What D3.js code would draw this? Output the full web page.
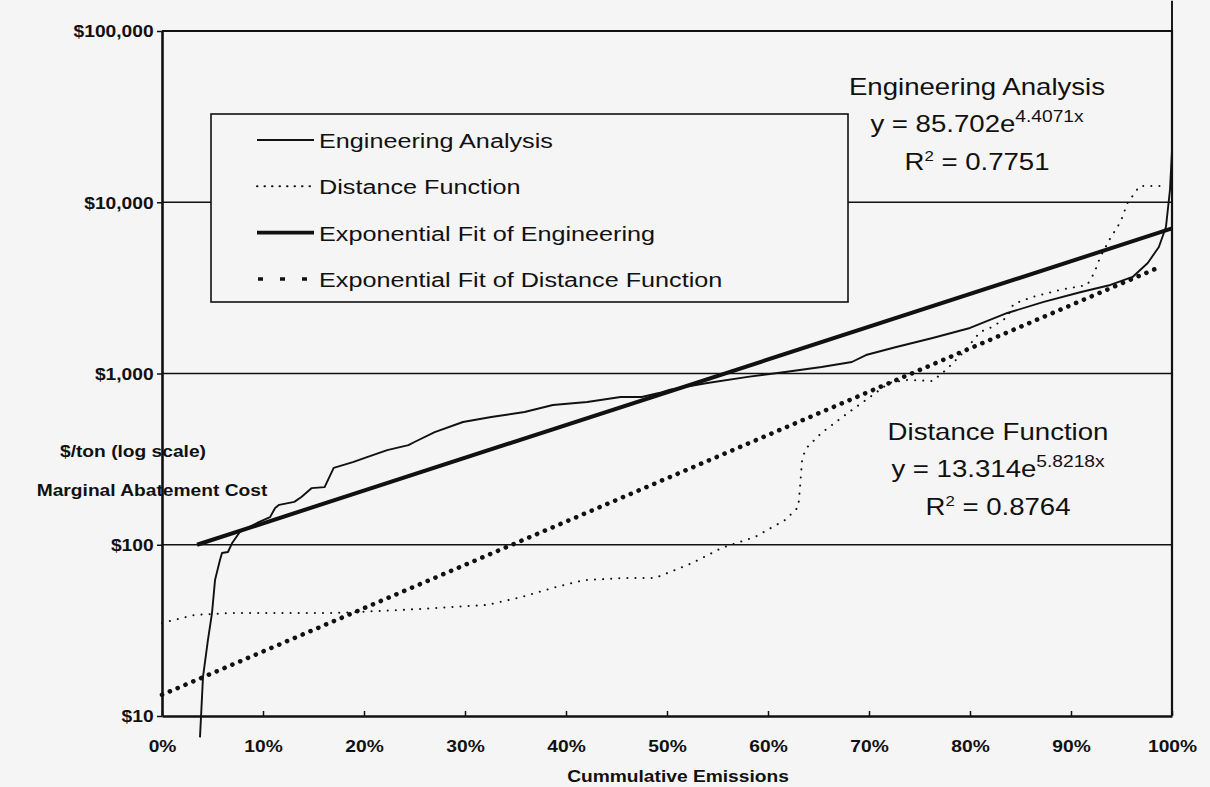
<!DOCTYPE html>
<html lang="en">
	<head>
		<meta charset="utf-8">
		<title>Marginal Abatement Cost</title>
		<script type="text/javascript" src="https://cdn.jsdelivr.net/npm/d3@7/dist/d3.min.js"></script>
		<style type="text/css">
			body {
				margin: 0;
				background: #f5f5f5;
			}
			svg text {
				font-family: "Liberation Sans", Arial, sans-serif;
				fill: #111;
			}
			.axis text {
				font-size: 16px;
				font-weight: bold;
			}
		</style>
	</head>

	<body>
		<script type="text/javascript">

		// values (x = share of cumulative emissions, cost in $/ton)
		var engX    = [0.0376, 0.0406, 0.0455, 0.0495, 0.0525, 0.0574, 0.0594, 0.0653, 0.0693, 0.0772,
		               0.0941, 0.107, 0.112, 0.116, 0.131, 0.138, 0.148, 0.161, 0.170, 0.189,
		               0.203, 0.223, 0.244, 0.250, 0.270, 0.298, 0.326, 0.359, 0.387, 0.421,
		               0.454, 0.475, 0.492, 0.503, 0.540, 0.580, 0.617, 0.653, 0.683, 0.697,
		               0.727, 0.763, 0.800, 0.837, 0.873, 0.910, 0.939, 0.961, 0.976, 0.987,
		               0.994, 0.998, 1.0, 1.0];
		var engCost = [7.5, 16.9, 27.8, 39.9, 62.2, 81.5, 89.5, 90.7, 102, 119,
		               134, 145, 164, 171, 178, 190, 214, 217, 281, 304,
		               325, 357, 382, 398, 455, 521, 557, 596, 655, 682,
		               729, 729, 769, 805, 880, 955, 1021, 1092, 1167, 1282,
		               1428, 1612, 1844, 2256, 2617, 2993, 3289, 3662, 4420, 5478,
		               7166, 11800, 20000, 150000];

		var distX    = [0, 0.032, 0.066, 0.168, 0.237, 0.270, 0.322, 0.356, 0.390, 0.418,
		                0.458, 0.488, 0.503, 0.525, 0.554, 0.587, 0.617, 0.630, 0.632, 0.634,
		                0.639, 0.653, 0.679, 0.701, 0.720, 0.738, 0.763, 0.776, 0.793, 0.810,
		                0.822, 0.837, 0.843, 0.862, 0.889, 0.916, 0.923, 0.929, 0.939, 0.949,
		                0.956, 0.968, 0.988];
		var distCost = [34.9, 38.9, 39.9, 39.9, 41.6, 42.7, 44.5, 49.5, 56.6, 62.2,
		                63.9, 63.9, 69.3, 78.2, 95.7, 111, 139.5, 166, 229, 325,
		                372, 450, 588, 729, 881, 917, 904, 1047, 1317, 1748,
		                1869, 2138, 2547, 2800, 3076, 3289, 3864, 4788, 6181, 7672,
		                9910, 12440, 12440];

		// end points of the two trend lines (straight on a log axis)
		var engFitX = [0.0347, 1.0];
		var engFitCost = [100, 7030];
		var distFitX = [0, 0.987];
		var distFitCost = [13.3, 4160];

		var xTicks = [0, 0.1, 0.2, 0.3, 0.4, 0.5, 0.6, 0.7, 0.8, 0.9, 1.0];
		var yTicks = [10, 100, 1000, 10000, 100000];

		var legendLabels = ["Engineering Analysis", "Distance Function",
		                    "Exponential Fit of Engineering", "Exponential Fit of Distance Function"];

		var w = 1210;
		var h = 787;
		var plotLeft = 162, plotRight = 1172, plotTop = 31, plotBottom = 716;
		var stretch = "scale(1.2,1)"; // the scan is wider than the original font

		var svg = d3.select("body")
		            .append("svg")
		            .attr("width", w)
		            .attr("height", h);

		var xScale = d3.scaleLinear()
		               .domain([0, 1])
		               .range([plotLeft, plotRight]);

		var yScale = d3.scaleLog()
		               .domain([10, 100000])
		               .range([plotBottom, plotTop]);

		var zip = function(xs, ys) {
			return xs.map(function(d, i) { return [d, ys[i]]; });
		}

		var line = d3.line()
		             .x(function(d) { return xScale(d[0]); })
		             .y(function(d) { return yScale(d[1]); });

		//gridlines
		svg.selectAll(".grid")
		   .data(yTicks.slice(1, 4))
		   .enter()
		   .append("line")
		   .attr("class", "grid")
		   .attr("x1", plotLeft)
		   .attr("x2", plotRight)
		   .attr("y1", function(d) { return yScale(d); })
		   .attr("y2", function(d) { return yScale(d); })
		   .attr("stroke", "#111")
		   .attr("stroke-width", 1.5);

		//plot frame top and right
		svg.append("path")
		   .attr("d", "M" + plotLeft + "," + yScale(100000) + "H" + plotRight + "V" + plotBottom)
		   .attr("fill", "none")
		   .attr("stroke", "#111")
		   .attr("stroke-width", 2.2);

		//axes
		var xAxis = d3.axisBottom(xScale)
		              .tickValues(xTicks)
		              .tickFormat(d3.format(".0%"))
		              .tickSizeInner(-5)
		              .tickSizeOuter(0)
		              .tickPadding(25);

		var yAxis = d3.axisLeft(yScale)
		              .tickValues(yTicks)
		              .tickFormat(function(d) { return "$" + d3.format(",")(d); })
		              .tickSizeInner(5)
		              .tickSizeOuter(0)
		              .tickPadding(2);

		var gx = svg.append("g")
		   .attr("class", "x axis")
		   .attr("transform", "translate(0," + plotBottom + ")")
		   .call(xAxis);

		var gy = svg.append("g")
		   .attr("class", "y axis")
		   .attr("transform", "translate(" + plotLeft + ",0)")
		   .call(yAxis);

		svg.selectAll(".axis .domain").attr("stroke", "#111").attr("stroke-width", 2.6);
		svg.selectAll(".axis .tick line").attr("stroke", "#111").attr("stroke-width", 1.5);
		svg.selectAll(".axis text").attr("transform", stretch).attr("font-family", null);
		gy.selectAll(".tick text").attr("dy", "0.36em");

		//legend box (hides the $10,000 gridline behind it)
		var lg = svg.append("g");
		lg.append("rect")
		  .attr("x", 211)
		  .attr("y", 114)
		  .attr("width", 637)
		  .attr("height", 188)
		  .attr("fill", "#f5f5f5")
		  .attr("stroke", "#111")
		  .attr("stroke-width", 1.6);

		var legendStyle = [
			{width: 1.8, dash: null, cap: "butt"},
			{width: 2, dash: "0.5,7", cap: "round"},
			{width: 3.8, dash: null, cap: "butt"},
			{width: 3.5, dash: "5,17", cap: "butt"}
		];

		legendLabels.forEach(function(label, i) {
			var cy = 140 + i * 46.3;
			var s = legendStyle[i];
			lg.append("line")
			  .attr("x1", i == 3 ? 258 : 257)
			  .attr("x2", 314)
			  .attr("y1", cy)
			  .attr("y2", cy)
			  .attr("stroke", "#111")
			  .attr("stroke-width", s.width)
			  .attr("stroke-linecap", s.cap)
			  .attr("stroke-dasharray", s.dash);
			lg.append("text")
			  .attr("transform", "translate(319," + (cy + 8) + ") " + stretch)
			  .attr("font-size", "21px")
			  .text(label);
		});

		//data series
		svg.append("path")
		   .datum(zip(distFitX, distFitCost))
		   .attr("d", line)
		   .attr("fill", "none")
		   .attr("stroke", "#111")
		   .attr("stroke-width", 4.6)
		   .attr("stroke-linecap", "round")
		   .attr("stroke-dasharray", "0.1,8.4");

		svg.append("path")
		   .datum(zip(distX, distCost))
		   .attr("d", line)
		   .attr("fill", "none")
		   .attr("stroke", "#111")
		   .attr("stroke-width", 2)
		   .attr("stroke-linecap", "round")
		   .attr("stroke-dasharray", "0.1,8");

		svg.append("path")
		   .datum(zip(engFitX, engFitCost))
		   .attr("d", line)
		   .attr("fill", "none")
		   .attr("stroke", "#111")
		   .attr("stroke-width", 4);

		svg.append("path")
		   .datum(zip(engX, engCost))
		   .attr("d", line)
		   .attr("fill", "none")
		   .attr("stroke", "#111")
		   .attr("stroke-width", 1.9)
		   .attr("stroke-linejoin", "round");

		//annotations for the fits
		var addNote = function(cx, y0, title, coef, expo, r2) {
			svg.append("text")
			   .attr("transform", "translate(" + cx + "," + y0 + ") " + stretch)
			   .attr("text-anchor", "middle")
			   .attr("font-size", "23px")
			   .text(title);

			var eq = svg.append("text")
			   .attr("transform", "translate(" + cx + "," + (y0 + 37) + ") " + stretch)
			   .attr("text-anchor", "middle")
			   .attr("font-size", "23px");
			eq.append("tspan").text("y = " + coef + "e");
			eq.append("tspan").attr("dy", -10).attr("font-size", "16px").text(expo);

			var r = svg.append("text")
			   .attr("transform", "translate(" + cx + "," + (y0 + 75) + ") " + stretch)
			   .attr("text-anchor", "middle")
			   .attr("font-size", "23px");
			r.append("tspan").text("R");
			r.append("tspan").attr("dy", -9).attr("font-size", "14px").text("2");
			r.append("tspan").attr("dy", 9).text(" = " + r2);
		}

		addNote(977, 95, "Engineering Analysis", "85.702", "4.4071x", "0.7751");
		addNote(998, 440, "Distance Function", "13.314", "5.8218x", "0.8764");

		//axis titles
		var boldText = function(x, y, txt) {
			svg.append("text")
			   .attr("transform", "translate(" + x + "," + y + ") " + stretch)
			   .attr("text-anchor", "middle")
			   .attr("font-size", "16px")
			   .attr("font-weight", "bold")
			   .text(txt);
		}

		boldText(133, 457, "$/ton (log scale)");
		boldText(152, 496, "Marginal Abatement Cost");
		boldText(678, 782, "Cummulative Emissions");

		</script>
	</body>
</html>
